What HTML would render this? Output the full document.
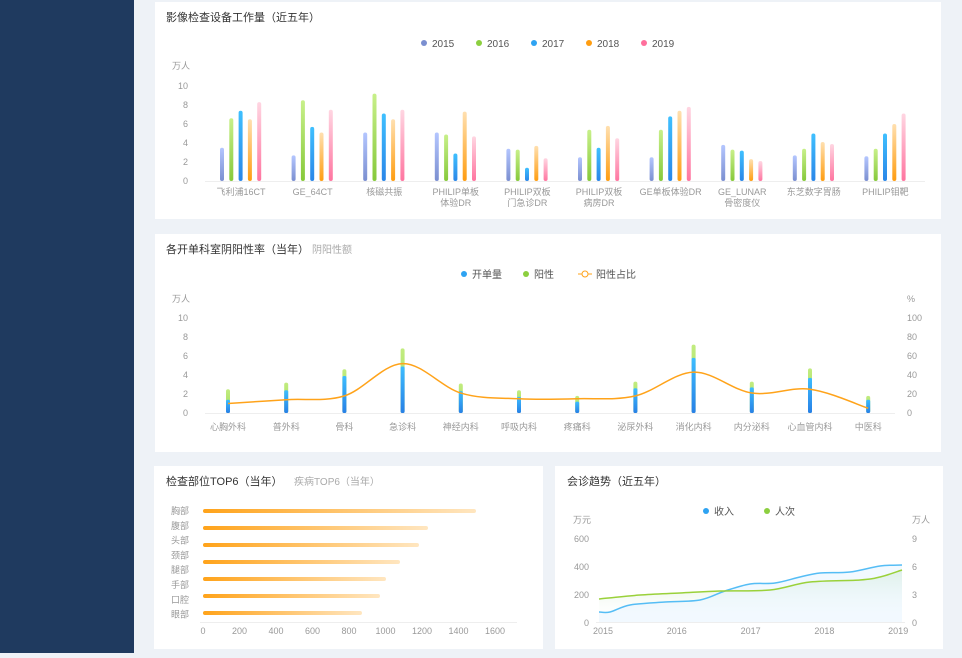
<!DOCTYPE html>
<html><head><meta charset="utf-8"><style>
body{margin:0;width:962px;height:653px;overflow:hidden;background:#eef2f7;font-family:"Liberation Sans","Noto Sans CJK SC",sans-serif;}
svg text{font-family:"Liberation Sans","Noto Sans CJK SC",sans-serif;}
</style></head><body>
<svg id="s" width="962" height="653" xmlns="http://www.w3.org/2000/svg">
<defs>
<linearGradient id="g0" x1="0" y1="0" x2="0" y2="1"><stop offset="0" stop-color="#b4c6ff"/><stop offset="1" stop-color="#7b8fd0"/></linearGradient>
<linearGradient id="g1" x1="0" y1="0" x2="0" y2="1"><stop offset="0" stop-color="#c8f08a"/><stop offset="1" stop-color="#86c93a"/></linearGradient>
<linearGradient id="g2" x1="0" y1="0" x2="0" y2="1"><stop offset="0" stop-color="#3fc0ff"/><stop offset="1" stop-color="#2a86e8"/></linearGradient>
<linearGradient id="g3" x1="0" y1="0" x2="0" y2="1"><stop offset="0" stop-color="#ffe0b0"/><stop offset="1" stop-color="#ff9d10"/></linearGradient>
<linearGradient id="g4" x1="0" y1="0" x2="0" y2="1"><stop offset="0" stop-color="#ffd6e2"/><stop offset="1" stop-color="#ff75a0"/></linearGradient>
<linearGradient id="gb" x1="0" y1="0" x2="0" y2="1"><stop offset="0" stop-color="#3dbdff"/><stop offset="1" stop-color="#2780e6"/></linearGradient>
<linearGradient id="gg" x1="0" y1="0" x2="0" y2="1"><stop offset="0" stop-color="#c2ec80"/><stop offset="1" stop-color="#9fdc5a"/></linearGradient>
<linearGradient id="gh" x1="0" y1="0" x2="1" y2="0"><stop offset="0" stop-color="#ffa31a"/><stop offset="1" stop-color="#ffe6c0"/></linearGradient>
<linearGradient id="ga" x1="0" y1="0" x2="0" y2="1"><stop offset="0" stop-color="#cde8c8" stop-opacity=".8"/><stop offset="1" stop-color="#ffffff" stop-opacity="0"/></linearGradient>
</defs>
<rect x="0" y="0" width="134" height="653" fill="#1f3a5f"/>
<rect x="155" y="2" width="786" height="217" fill="#fff"/>
<rect x="155" y="234" width="786" height="218" fill="#fff"/>
<rect x="154" y="466" width="389" height="183" fill="#fff"/>
<rect x="555" y="466" width="388" height="183" fill="#fff"/>
<g id="g"></g>
</svg>
<script>
const g=document.getElementById('g');let h='';
function T(x,y,t,o){o=o||{};h+=`<text x="${x}" y="${y}" font-size="${o.s||9}" fill="${o.c||'#999'}" text-anchor="${o.a||'start'}">${t}</text>`;}
function smooth(p){let d=`M${p[0][0]},${p[0][1]}`;for(let i=0;i<p.length-1;i++){const p0=p[i-1]||p[i],p1=p[i],p2=p[i+1],p3=p[i+2]||p2;d+=` C${p1[0]+(p2[0]-p0[0])/6},${p1[1]+(p2[1]-p0[1])/6} ${p2[0]-(p3[0]-p1[0])/6},${p2[1]-(p3[1]-p1[1])/6} ${p2[0]},${p2[1]}`;}return d;}
// chart1
T(166,21,'影像检查设备工作量（近五年）',{s:11,c:'#333'});
const cols=['#7b8fd0','#8ccf3f','#2ea3f2','#ff9d10','#ff6f9c'];
['2015','2016','2017','2018','2019'].forEach((y,i)=>{const x=424+i*55;h+=`<circle cx="${x}" cy="43" r="3" fill="${cols[i]}"/>`;T(x+8,47,y,{s:10,c:'#555'});});
T(172,69,'万人');
for(let v=0;v<=10;v+=2){T(188,184-v*9.5,v,{a:'end'});}
h+=`<line x1="205" y1="181.5" x2="925" y2="181.5" stroke="#eee"/>`;
const d1=[[3.5,6.6,7.4,6.5,8.3],[2.7,8.5,5.7,5.1,7.5],[5.1,9.2,7.1,6.5,7.5],[5.1,4.9,2.9,7.3,4.7],[3.4,3.3,1.4,3.7,2.4],[2.5,5.4,3.5,5.8,4.5],[2.5,5.4,6.8,7.4,7.8],[3.8,3.3,3.2,2.3,2.1],[2.7,3.4,5.0,4.1,3.9],[2.6,3.4,5.0,6.0,7.1]];
const l1=[['飞利浦16CT'],['GE_64CT'],['核磁共振'],['PHILIP单板','体验DR'],['PHILIP双板','门急诊DR'],['PHILIP双板','病房DR'],['GE单板体验DR'],['GE_LUNAR','骨密度仪'],['东芝数字胃肠'],['PHILIP钼靶']];
d1.forEach((vs,k)=>{const c=241+k*71.6;vs.forEach((v,i)=>{const x=c-19+i*9.3,hh=v*9.5;h+=`<rect x="${x-2}" y="${181-hh}" width="4" height="${hh}" rx="2" fill="url(#g${i})"/>`;});l1[k].forEach((t,j)=>T(c,195+j*11,t,{a:'middle'}));});
// chart2
T(166,253,'各开单科室阴阳性率（当年）',{s:11,c:'#333'});T(312,253,'阴阳性额',{s:10,c:'#aaa'});
h+=`<circle cx="464" cy="274" r="3" fill="#2ea3f2"/>`;T(472,278,'开单量',{s:10,c:'#555'});
h+=`<circle cx="526" cy="274" r="3" fill="#8ccf3f"/>`;T(534,278,'阳性',{s:10,c:'#555'});
h+=`<line x1="578" y1="274" x2="592" y2="274" stroke="#ffa31a"/><circle cx="585" cy="274" r="3" fill="#fff" stroke="#ffa31a"/>`;T(596,278,'阳性占比',{s:10,c:'#555'});
T(172,302,'万人');T(907,302,'%');
for(let v=0;v<=10;v+=2){T(188,416-v*9.5,v,{a:'end'});T(907,416-v*9.5,v*10);}
h+=`<line x1="205" y1="413.5" x2="895" y2="413.5" stroke="#eee"/>`;
const d2=[[1.4,2.5,10],[2.4,3.2,14],[3.9,4.6,18],[4.9,6.8,52],[2.3,3.1,21],[1.7,2.4,15],[1.2,1.8,15],[2.6,3.3,18],[5.8,7.2,43],[2.7,3.3,21],[3.7,4.7,25],[1.4,1.8,5]];
const l2=['心胸外科','普外科','骨科','急诊科','神经内科','呼吸内科','疼痛科','泌尿外科','消化内科','内分泌科','心血管内科','中医科'];
const pts=[];
d2.forEach((d,k)=>{const c=228+k*58.2;h+=`<rect x="${c-2}" y="${413-d[1]*9.5}" width="4" height="${d[1]*9.5}" rx="2" fill="url(#gg)"/><rect x="${c-2}" y="${413-d[0]*9.5}" width="4" height="${d[0]*9.5}" rx="1.5" fill="url(#gb)"/>`;T(c,430,l2[k],{a:'middle'});pts.push([c,413-d[2]*0.95]);});
h+=`<path d="${smooth(pts)}" fill="none" stroke="#ffa31a" stroke-width="1.5"/>`;
// chart3
T(166,485,'检查部位TOP6（当年）',{s:11,c:'#333'});T(294,485,'疾病TOP6（当年）',{s:10,c:'#aaa'});
['胸部','腹部','头部','颈部','腿部','手部','口腔','眼部'].forEach((t,i)=>T(189,514+i*14.8,t,{a:'end'}));
[476,428,419,400,386,380,362].forEach((e,i)=>{const y=511+i*17;h+=`<rect x="203" y="${y-2}" width="${e-203}" height="4" rx="2" fill="url(#gh)"/>`;});
h+=`<line x1="200" y1="622.5" x2="517" y2="622.5" stroke="#eee"/>`;
for(let v=0;v<=1600;v+=200)T(203+v*0.1825,634,v,{a:'middle'});
// chart4
T(567,485,'会诊趋势（近五年）',{s:11,c:'#333'});
h+=`<circle cx="706" cy="511" r="3" fill="#2ea3f2"/>`;T(714,515,'收入',{s:10,c:'#555'});
h+=`<circle cx="767" cy="511" r="3" fill="#8ccf3f"/>`;T(775,515,'人次',{s:10,c:'#555'});
T(573,523,'万元');T(912,523,'万人');
[0,200,400,600].forEach((v,i)=>{T(589,626-i*28,v,{a:'end'});T(912,626-i*28,i*3);});
h+=`<line x1="596" y1="622.5" x2="905" y2="622.5" stroke="#eee"/>`;
['2015','2016','2017','2018','2019'].forEach((t,i)=>T(603+i*73.8,634,t,{a:'middle'}));
const bl=[[599,612],[610,612],[630,605],[665,602],[700,600],[725,591],[750,584],[775,583],[800,577],[820,573],[850,572],[880,566],[902,565]];
const gl=[[599,599],[640,595],[680,593],[720,591],[770,590],[810,582],[860,580],[880,577],[902,570]];
const bp=smooth(bl),gp=smooth(gl);
h+=`<path d="${gp} L902,622 L599,622Z" fill="url(#ga)"/><path d="${bp} L902,622 L599,622Z" fill="#e6f4ff" opacity=".5"/>`;
h+=`<path d="${bp}" fill="none" stroke="#55bdf5" stroke-width="1.5"/><path d="${gp}" fill="none" stroke="#9ad13a" stroke-width="1.5"/>`;
g.innerHTML=h;
</script>
</body></html>
